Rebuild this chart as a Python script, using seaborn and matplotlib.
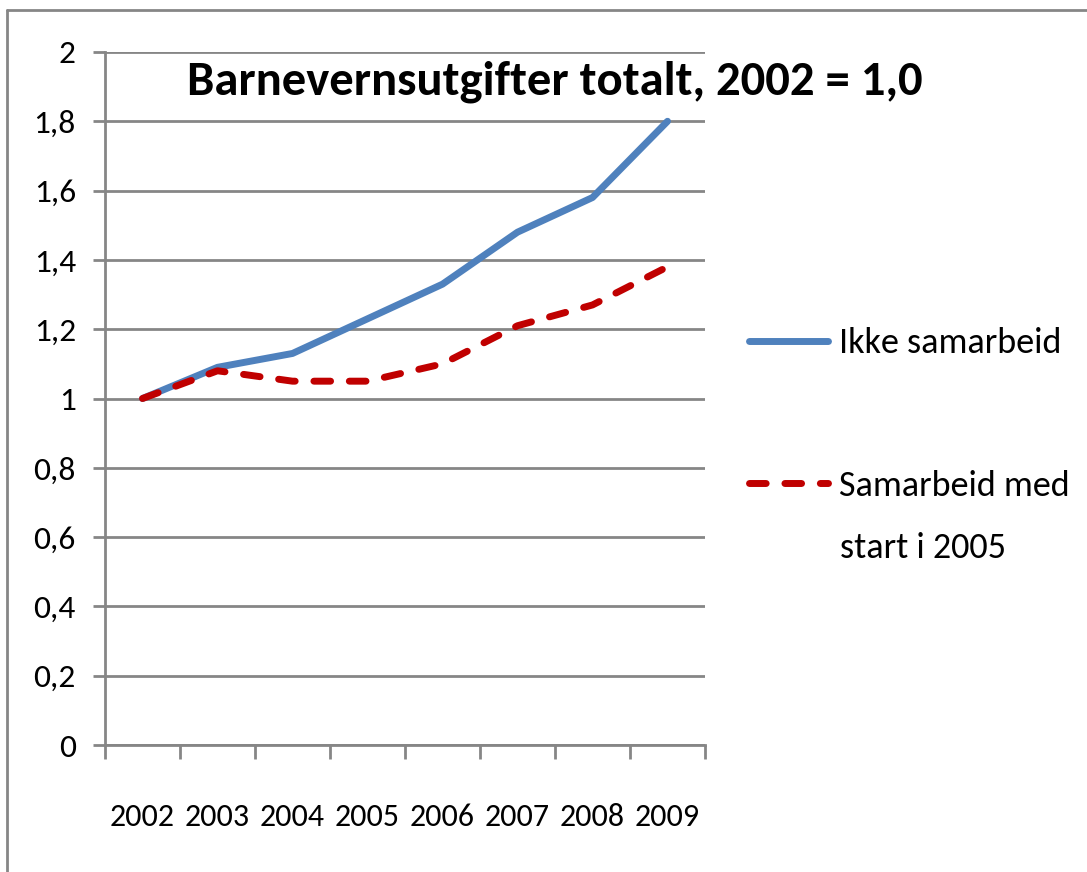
import matplotlib
matplotlib.use("Agg")
import matplotlib.pyplot as plt
from matplotlib.ticker import FixedLocator, FuncFormatter
from matplotlib.lines import Line2D
import seaborn as sns
import pandas as pd

# Data
years = ["2002", "2003", "2004", "2005", "2006", "2007", "2008", "2009"]
ikke_samarbeid = [1.00, 1.09, 1.13, 1.23, 1.33, 1.48, 1.58, 1.80]
samarbeid = [1.00, 1.08, 1.05, 1.05, 1.10, 1.21, 1.27, 1.38]
label_ikke = "Ikke samarbeid"
label_sam = "Samarbeid med"
label_sam2 = "start i 2005"
title = "Barnevernsutgifter totalt, 2002 = 1,0"
y_ticks = [0, 0.2, 0.4, 0.6, 0.8, 1.0, 1.2, 1.4, 1.6, 1.8, 2.0]

sns.set_style("white")
plt.rcParams["font.family"] = ["Carlito", "Lato", "DejaVu Sans"]
plt.rcParams["text.color"] = "black"

df = pd.DataFrame({"pos": range(len(years)), "ikke": ikke_samarbeid, "sam": samarbeid})

grey = "#868686"
fig = plt.figure(figsize=(10.87, 8.72), dpi=100)
ax = fig.add_axes([0.0966, 0.1456, 0.552, 0.7948])

sns.lineplot(data=df, x="pos", y="ikke", ax=ax, color="#4F81BD", linewidth=5,
             label=label_ikke, solid_capstyle="round")
sns.lineplot(data=df, x="pos", y="sam", ax=ax, color="#C00000", linewidth=5,
             label=label_sam, dashes=False)
ax.lines[1].set_dashes((2.4, 2.7))
ax.lines[1].set_dash_capstyle("round")

ax.set_xlim(-0.5, len(years) - 0.5)
ax.set_ylim(0, 2)
ax.set_xlabel("")
ax.set_ylabel("")

# y axis
ax.set_yticks(y_ticks)
ax.yaxis.set_major_formatter(FuncFormatter(lambda v, p: f"{v:g}".replace(".", ",")))
ax.yaxis.grid(True, color=grey, linewidth=2)
ax.tick_params(axis="y", direction="out", length=9, width=2, color=grey,
               labelsize=24, pad=12, left=True, labelcolor="black")

# x axis: tick marks at category edges, labels at centres
ax.xaxis.set_major_locator(FixedLocator([i - 0.5 for i in range(len(years) + 1)]))
ax.xaxis.set_major_formatter(FuncFormatter(lambda v, p: ""))
ax.xaxis.set_minor_locator(FixedLocator(list(range(len(years)))))
ax.set_xticklabels(years, minor=True)
ax.tick_params(axis="x", which="major", direction="out", length=10, width=2,
               color=grey, bottom=True)
ax.tick_params(axis="x", which="minor", length=0, labelsize=23, pad=42, labelcolor="black")

for side in ["top", "right"]:
    ax.spines[side].set_visible(False)
for side in ["left", "bottom"]:
    ax.spines[side].set_color(grey)
    ax.spines[side].set_linewidth(2)

leg = ax.legend(loc="upper left", bbox_to_anchor=(0.689, 0.6245), bbox_transform=fig.transFigure,
                frameon=False, fontsize=26, handlelength=2.2, handletextpad=0.3,
                labelspacing=3.05, borderaxespad=0, borderpad=0)
fig.text(0.773, 0.3716, label_sam2, ha="left", va="center", fontsize=26)

fig.text(0.51, 0.906, title, ha="center", va="center", fontsize=35, fontweight="bold")

# outer chart border (left and top visible)
fig.add_artist(Line2D([0.0066, 0.0066], [0.0, 0.9885], color=grey, linewidth=2,
                      transform=fig.transFigure))
fig.add_artist(Line2D([0.0066, 1.0], [0.9885, 0.9885], color=grey, linewidth=2,
                      transform=fig.transFigure))

fig.savefig("out.png", dpi=100)
